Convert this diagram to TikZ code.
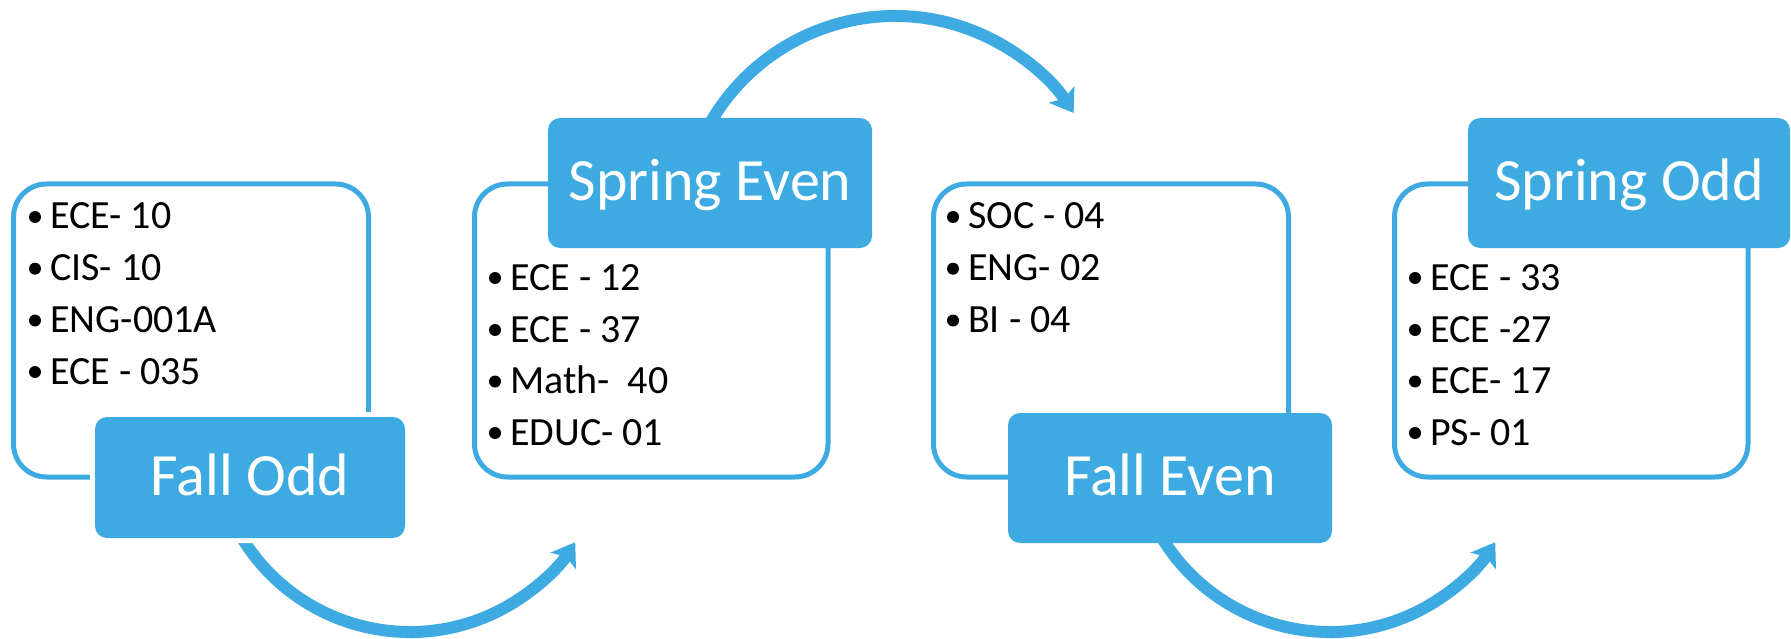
\documentclass[tikz,border=0pt]{standalone}
\usepackage{fontspec}
\setmainfont{Carlito}
\usetikzlibrary{arrows.meta}
\definecolor{sblue}{RGB}{61,170,225}
\tikzset{
  listbox/.style={draw=sblue, line width=5pt, rounded corners=33pt, inner sep=0pt, minimum height=293pt},
  tagbox/.style={fill=sblue, rounded corners=12pt, inner sep=0pt, text=white,
    font=\fontsize{60}{72}\selectfont, text height=35pt, text depth=0pt},
  whitering/.style={preaction={draw=white, line width=10pt}},
  item/.style={anchor=base west, inner sep=0pt, font=\fontsize{40}{48}\selectfont,
    append after command={\pgfextra{\fill[black] ([shift={(-15,-12)}]\tikzlastnode.base west) circle[radius=6pt];}}},
  flow/.style={draw=sblue, line width=12pt, -{Stealth[length=22pt,width=30pt,inset=5pt]}},
}
\begin{document}
\begin{tikzpicture}[x=1pt,y=-1pt]
\useasboundingbox (0,0) rectangle (1791,639);
% arc centres
\coordinate (c1) at (410,435);
\coordinate (c2) at (895,229);
\coordinate (c3) at (1330,435);
% arrows
\draw[flow] ([shift={(150:197)}]c1) arc[start angle=150, end angle=33, radius=197];
\draw[flow] ([shift={(205:213)}]c2) arc[start angle=205, end angle=327, radius=213];
\draw[flow] ([shift={(150:197)}]c3) arc[start angle=150, end angle=33, radius=197];
% content boxes
\node[listbox, minimum width=355pt]   (b1) at (191,330.5) {};
\node[listbox, minimum width=353.5pt] (b2) at (651.25,330.5) {};
\node[listbox, minimum width=355pt]   (b3) at (1111,330.5) {};
\node[listbox, minimum width=353.5pt] (b4) at (1571.25,330.5) {};
% tags
\node[tagbox, whitering, minimum width=310pt, minimum height=121pt] (t1) at (250,477.5) {Fall Odd};
\node[tagbox, minimum width=324pt, minimum height=130pt] (t2) at (710,183) {Spring Even};
\node[tagbox, minimum width=324pt, minimum height=130pt] (t3) at (1170,478) {Fall Even};
\node[tagbox, minimum width=322pt, minimum height=130pt] (t4) at (1629,183) {Spring Odd};
% items
\node[item] (i11) at (50,229)   {ECE- 10};
\node[item] (i12) at (50,280.7) {CIS- 10};
\node[item] (i13) at (50,332.5) {ENG-001A};
\node[item] (i14) at (50,384)   {ECE - 035};
\node[item] (i21) at (510,290)   {ECE - 12};
\node[item] (i22) at (510,342)   {ECE - 37};
\node[item] (i23) at (510,393.5) {Math-\ \ 40};
\node[item] (i24) at (510,445)   {EDUC- 01};
\node[item] (i31) at (968,229)   {SOC - 04};
\node[item] (i32) at (968,280.7) {ENG- 02};
\node[item] (i33) at (968,332.5) {BI - 04};
\node[item] (i41) at (1430,290)   {ECE - 33};
\node[item] (i42) at (1430,342)   {ECE -27};
\node[item] (i43) at (1430,393.5) {ECE- 17};
\node[item] (i44) at (1430,445)   {PS- 01};
\end{tikzpicture}
\end{document}
